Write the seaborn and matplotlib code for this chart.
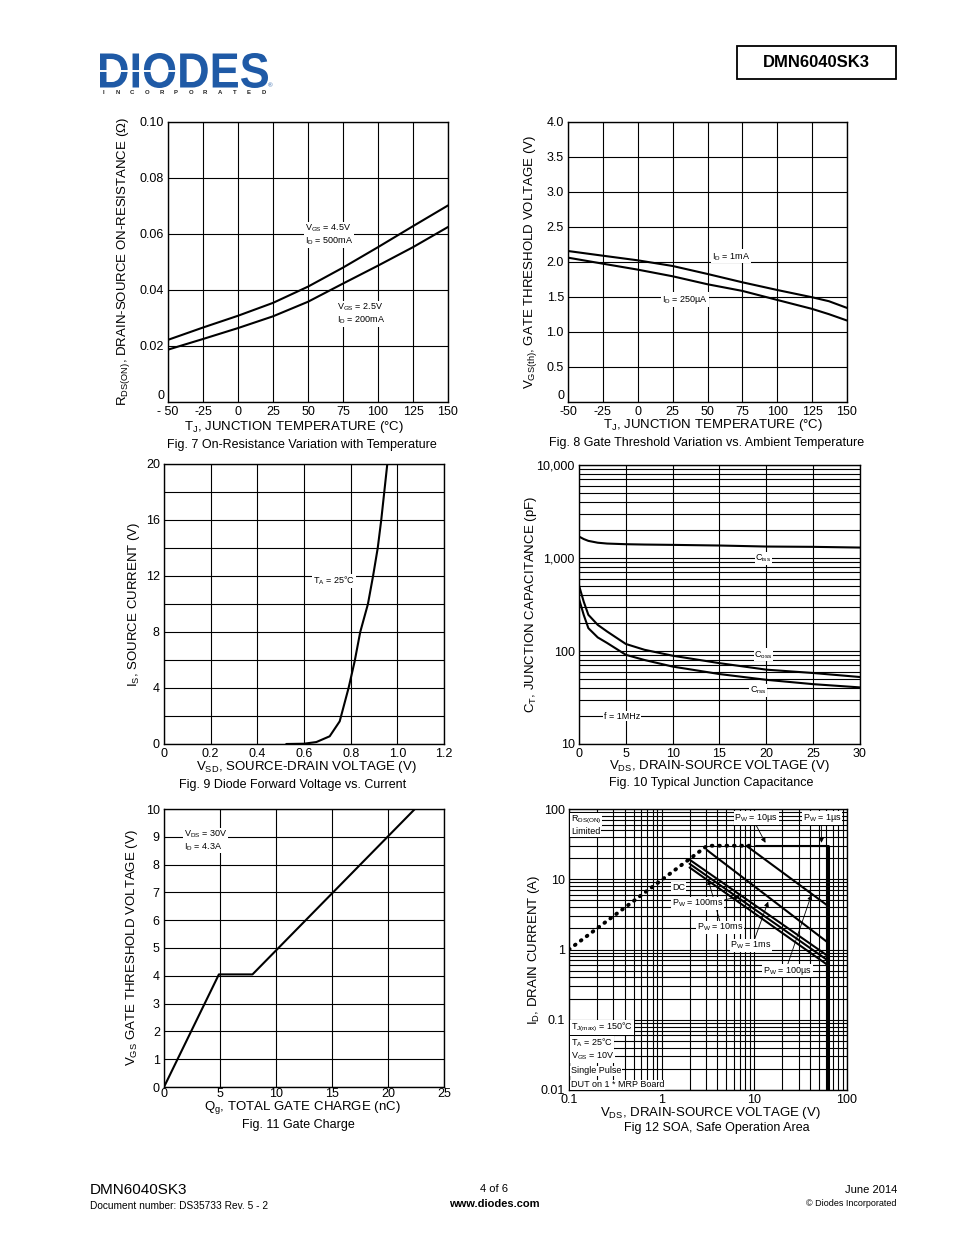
import seaborn as sns
import matplotlib.pyplot as plt
import matplotlib.ticker as mtick
from matplotlib.patches import Rectangle, PathPatch
from matplotlib.textpath import TextPath
from matplotlib.font_manager import FontProperties
from matplotlib.transforms import Affine2D

# Fig. 7 - on-resistance vs temperature
temp7 = [-50, -25, 0, 25, 50, 75, 100, 125, 150]
rds_45v = [0.0222, 0.0266, 0.0308, 0.0354, 0.0412, 0.0480, 0.0553, 0.0628, 0.0702]
rds_25v = [0.0187, 0.0225, 0.0264, 0.0306, 0.0358, 0.0423, 0.0487, 0.0553, 0.0625]

# Fig. 8 - gate threshold vs temperature
temp8 = [-50, -25, 0, 25, 50, 75, 100, 125, 137, 150]
vth_1ma = [2.157, 2.09, 2.024, 1.943, 1.829, 1.71, 1.60, 1.496, 1.44, 1.344]
vth_250ua = [2.062, 1.976, 1.891, 1.796, 1.682, 1.587, 1.458, 1.33, 1.255, 1.164]

# Fig. 9 - diode forward voltage
vsd = [0.524, 0.60, 0.653, 0.71, 0.753, 0.791, 0.817, 0.841, 0.874, 0.896, 0.916, 0.931, 0.944, 0.957]
i_s = [0, 0.02, 0.14, 0.55, 1.62, 4.0, 5.9, 8.0, 10.0, 12.0, 14.0, 16.0, 18.0, 20.0]

# Fig. 10 - junction capacitance
vds10 = [0, 0.5, 1, 2, 3, 5, 7, 10, 15, 20, 25, 30]
ciss = [1700, 1600, 1528, 1460, 1430, 1407, 1395, 1384, 1362, 1328, 1318, 1295]
coss = [506, 340, 245, 191, 162, 119, 103, 89, 74, 63, 58, 52.5]
crss = [364, 245, 176, 140, 122, 91, 80, 68, 56.5, 49, 44, 40.6]

# Fig. 11 - gate charge
qg = [0, 4.9, 7.9, 22.4]
vgs = [0, 4.05, 4.05, 10]

# Fig. 12 - SOA
rds_lim_v = [0.1, 3.1, 10.3]
rds_lim_i = [1, 30, 30]
flat_v = [10.3, 62]
flat_i = [30, 30]
bv_v = [62, 62]
bv_i = [30, 0.01]
pw100us_v, pw100us_i = [8.2, 62], [30, 4.2]
pw1ms_v, pw1ms_i = [3.05, 62], [26.3, 1.26]
pw10ms_v, pw10ms_i = [2.0, 62], [19.0, 0.81]
pw100ms_v, pw100ms_i = [2.0, 62], [16.6, 0.70]
dc_v, dc_i = [2.0, 62], [14.7, 0.60]

sns.set_theme(style="white")
plt.rcParams['font.family'] = ['Liberation Sans', 'DejaVu Sans']
plt.rcParams['mathtext.fontset'] = 'custom'
plt.rcParams['mathtext.rm'] = 'Liberation Sans'
plt.rcParams['mathtext.it'] = 'Liberation Sans:italic'
plt.rcParams['mathtext.bf'] = 'Liberation Sans:bold'
plt.rcParams['mathtext.default'] = 'regular'
plt.rcParams['text.color'] = 'black'
plt.rcParams['xtick.color'] = 'black'
plt.rcParams['ytick.color'] = 'black'

W, H = 954, 1235
fig = plt.figure(figsize=(9.54, 12.35), dpi=100)
fig.patch.set_facecolor('white')


def add_panel(x0, y0, x1, y1):
    return fig.add_axes([x0 / W, 1 - y1 / H, (x1 - x0) / W, (y1 - y0) / H])


def dress(ax, xlabel, ylabel, caption, xl, yl_x, cap, xpad=3):
    ax.grid(True, which='both', color='black', linewidth=0.8)
    ax.set_axisbelow(True)
    ax.tick_params(which='both', length=0, labelsize=9, pad=3)
    ax.tick_params(axis='x', pad=xpad)
    for s in ax.spines.values():
        s.set_color('black')
        s.set_linewidth(1.0)
        s.set_visible(True)
    ax.set_xlabel('')
    ax.set_ylabel('')
    ax.text(xl[0], xl[1], xlabel, transform=ax.transAxes, ha='center', va='center', fontsize=9.5)
    ax.text(yl_x, 0.5, ylabel, transform=ax.transAxes, ha='center', va='center',
            rotation=90, fontsize=9.5)
    ax.text(cap[0], cap[1], caption, transform=ax.transAxes, ha='center', va='center', fontsize=9)


def note(ax, x, y, s, ha='left', size=6.5):
    ax.text(x, y, s, ha=ha, va='center', fontsize=size, zorder=5,
            bbox=dict(fc='white', ec='none', pad=0.6))


def zero_label(ax):
    # the "0" of the y axis sits a little above the corner on the datasheet
    ax.text(-0.011, 0.0, '0', transform=ax.transAxes, ha='right', va='bottom', fontsize=9)


line_kw = dict(color='black', linewidth=1.5, estimator=None, sort=False)

# ---- Fig. 7
ax7 = add_panel(168, 122, 448, 402)
sns.lineplot(x=temp7, y=rds_45v, ax=ax7, **line_kw)
sns.lineplot(x=temp7, y=rds_25v, ax=ax7, **line_kw)
ax7.set(xlim=(-50, 150), ylim=(0, 0.10))
ax7.xaxis.set_major_locator(mtick.MultipleLocator(25))
ax7.yaxis.set_major_locator(mtick.MultipleLocator(0.02))
ax7.xaxis.set_major_formatter(mtick.FuncFormatter(lambda v, _: '- 50' if v == -50 else f'{v:g}'))
ax7.yaxis.set_major_formatter(mtick.FuncFormatter(lambda v, _: '' if abs(v) < 1e-9 else f'{v:.2f}'))
zero_label(ax7)
note(ax7, 47.6, 0.0619, r'V$_{GS}$ = 4.5V')
note(ax7, 47.6, 0.0577, r'I$_D$ = 500mA')
note(ax7, 71, 0.0339, r'V$_{GS}$ = 2.5V')
note(ax7, 71, 0.0292, r'I$_D$ = 200mA')
dress(ax7, r'T$_J$, JUNCTION TEMPERATURE (°C)',
      r'R$_{DS(ON)}$, DRAIN-SOURCE ON-RESISTANCE (Ω)',
      'Fig. 7 On-Resistance Variation with Temperature',
      (0.45, -0.088), -0.158, (0.478, -0.154))

# ---- Fig. 8
ax8 = add_panel(568, 122, 847, 402)
sns.lineplot(x=temp8, y=vth_1ma, ax=ax8, **line_kw)
sns.lineplot(x=temp8, y=vth_250ua, ax=ax8, **line_kw)
ax8.set(xlim=(-50, 150), ylim=(0, 4.0))
ax8.xaxis.set_major_locator(mtick.MultipleLocator(25))
ax8.yaxis.set_major_locator(mtick.MultipleLocator(0.5))
ax8.xaxis.set_major_formatter(mtick.FuncFormatter(lambda v, _: f'{v:g}'))
ax8.yaxis.set_major_formatter(mtick.FuncFormatter(lambda v, _: '' if v == 0 else f'{v:.1f}'))
zero_label(ax8)
note(ax8, 53.2, 2.08, r'I$_D$ = 1mA')
note(ax8, 17.4, 1.46, r'I$_D$ = 250µA')
dress(ax8, r'T$_J$, JUNCTION TEMPERATURE (°C)',
      r'V$_{GS(th)}$, GATE THRESHOLD VOLTAGE (V)',
      'Fig. 8 Gate Threshold Variation vs. Ambient Temperature',
      (0.52, -0.082), -0.133, (0.497, -0.148))

# ---- Fig. 9
ax9 = add_panel(164, 464, 444, 744)
sns.lineplot(x=vsd, y=i_s, ax=ax9, **line_kw)
ax9.set(xlim=(0, 1.2), ylim=(0, 20))
ax9.xaxis.set_major_locator(mtick.MultipleLocator(0.2))
ax9.yaxis.set_major_locator(mtick.MultipleLocator(4))
ax9.yaxis.set_minor_locator(mtick.MultipleLocator(2))
ax9.xaxis.set_major_formatter(mtick.FuncFormatter(lambda v, _: '0' if abs(v) < 1e-9 else f'{v:.1f}'))
ax9.yaxis.set_major_formatter(mtick.FuncFormatter(lambda v, _: f'{v:g}'))
note(ax9, 0.639, 11.67, r'T$_A$ = 25°C')
dress(ax9, r'V$_{SD}$, SOURCE-DRAIN VOLTAGE (V)', r'I$_S$, SOURCE CURRENT (V)',
      'Fig. 9 Diode Forward Voltage vs. Current',
      (0.51, -0.081), -0.107, (0.46, -0.146))

# ---- Fig. 10
ax10 = add_panel(579, 465, 860, 744)
sns.lineplot(x=vds10, y=ciss, ax=ax10, **line_kw)
sns.lineplot(x=vds10, y=coss, ax=ax10, **line_kw)
sns.lineplot(x=vds10, y=crss, ax=ax10, **line_kw)
ax10.set_yscale('log')
ax10.set(xlim=(0, 30), ylim=(10, 10000))
ax10.xaxis.set_major_locator(mtick.MultipleLocator(5))
ax10.yaxis.set_major_locator(mtick.LogLocator(base=10, numticks=10))
ax10.yaxis.set_minor_locator(mtick.LogLocator(base=10, subs=range(2, 10), numticks=20))
ax10.yaxis.set_minor_formatter(mtick.NullFormatter())
ax10.yaxis.set_major_formatter(mtick.FuncFormatter(lambda v, _: f'{v:,.0f}'))
note(ax10, 19.7, 995, r'C$_{iss}$', ha='center')
note(ax10, 19.7, 91, r'C$_{oss}$', ha='center')
note(ax10, 19.1, 37.4, r'C$_{rss}$', ha='center')
note(ax10, 4.6, 20, 'f = 1MHz', ha='center')
dress(ax10, r'V$_{DS}$, DRAIN-SOURCE VOLTAGE (V)', r'C$_T$, JUNCTION CAPACITANCE (pF)',
      'Fig. 10 Typical Junction Capacitance',
      (0.5, -0.08), -0.171, (0.47, -0.14))

# ---- Fig. 11
ax11 = add_panel(164, 809, 444, 1087)
sns.lineplot(x=qg, y=vgs, ax=ax11, **line_kw)
ax11.set(xlim=(0, 25), ylim=(0, 10))
ax11.xaxis.set_major_locator(mtick.MultipleLocator(5))
ax11.yaxis.set_major_locator(mtick.MultipleLocator(1))
note(ax11, 1.76, 9.08, r'V$_{DS}$ = 30V')
note(ax11, 1.76, 8.66, r'I$_D$ = 4.3A')
dress(ax11, r'Q$_g$, TOTAL GATE CHARGE (nC)', r'V$_{GS}$ GATE THRESHOLD VOLTAGE (V)',
      'Fig. 11 Gate Charge',
      (0.495, -0.075), -0.1125, (0.48, -0.136), xpad=0.5)

# ---- Fig. 12
ax12 = add_panel(569, 809, 847, 1090)
sns.lineplot(x=rds_lim_v, y=rds_lim_i, ax=ax12, color='black', linewidth=2.8,
             linestyle=(0, (0.2, 1.7)), dash_capstyle='round', estimator=None, sort=False)
sns.lineplot(x=flat_v, y=flat_i, ax=ax12, **line_kw)
sns.lineplot(x=bv_v, y=bv_i, ax=ax12, color='black', linewidth=2.2, estimator=None, sort=False)
for xs, ys in [(pw100us_v, pw100us_i), (pw1ms_v, pw1ms_i), (pw10ms_v, pw10ms_i),
               (pw100ms_v, pw100ms_i), (dc_v, dc_i)]:
    sns.lineplot(x=xs, y=ys, ax=ax12, **line_kw)
ax12.set_xscale('log')
ax12.set_yscale('log')
ax12.set(xlim=(0.1, 100), ylim=(0.01, 100))
for axis in (ax12.xaxis, ax12.yaxis):
    axis.set_major_locator(mtick.LogLocator(base=10, numticks=10))
    axis.set_minor_locator(mtick.LogLocator(base=10, subs=range(2, 10), numticks=20))
    axis.set_minor_formatter(mtick.NullFormatter())
    axis.set_major_formatter(mtick.FuncFormatter(lambda v, _: f'{v:g}'))

arrow_kw = dict(arrowstyle='-|>', color='black', lw=0.6, mutation_scale=7, shrinkA=0, shrinkB=0)
note(ax12, 10.5, 74.5, r'P$_W$ = 10µs', ha='center')
note(ax12, 53.8, 74.5, r'P$_W$ = 1µs', ha='center')
note(ax12, 1.53, 7.7, 'DC', ha='center')
note(ax12, 2.42, 4.5, r'P$_W$ = 100ms', ha='center')
note(ax12, 4.25, 2.08, r'P$_W$ = 10ms', ha='center')
note(ax12, 9.2, 1.14, r'P$_W$ = 1ms', ha='center')
note(ax12, 22.8, 0.50, r'P$_W$ = 100µs', ha='center')
ax12.annotate('', xy=(13.2, 33), xytext=(10.5, 58), arrowprops=arrow_kw)
ax12.annotate('', xy=(53, 33), xytext=(53, 58), arrowprops=arrow_kw)
ax12.annotate('', xy=(3.18, 9.9), xytext=(4.25, 2.5), arrowprops=arrow_kw)
ax12.annotate('', xy=(6.97, 5.7), xytext=(4.8, 5.1), arrowprops=arrow_kw)
ax12.annotate('', xy=(14.1, 4.8), xytext=(9.7, 1.23), arrowprops=arrow_kw)
ax12.annotate('', xy=(41.3, 6.0), xytext=(22.2, 0.543), arrowprops=arrow_kw)
note(ax12, 0.105, 70.8, r'R$_{DS(ON)}$')
note(ax12, 0.105, 47.5, 'Limited')
for yy, s in zip([0.0774, 0.0473, 0.0299, 0.0187, 0.0118],
                 [r'T$_{J(max)}$ = 150°C', r'T$_A$ = 25°C', r'V$_{GS}$ = 10V',
                  'Single Pulse', 'DUT on 1 * MRP Board']):
    note(ax12, 0.105, yy, s)
dress(ax12, r'V$_{DS}$, DRAIN-SOURCE VOLTAGE (V)', r'I$_D$, DRAIN CURRENT (A)',
      'Fig 12 SOA, Safe Operation Area',
      (0.507, -0.083), -0.126, (0.53, -0.136))

# ---- page header / footer
page = fig.add_axes([0, 0, 1, 1], zorder=-1)
page.set_xlim(0, W)
page.set_ylim(H, 0)
page.set_axis_off()

logo_path = TextPath((0, 0), 'DIODES', size=40, prop=FontProperties(family='Liberation Sans', weight='bold'))
ext = logo_path.get_extents()
sx = 168 / ext.width
sy = 35 / ext.height
tr = Affine2D().translate(-ext.x0, -ext.y0).scale(sx, -sy).translate(100, 88)
page.add_patch(PathPatch(tr.transform_path(logo_path), fc='#1f5aa6', ec='none'))
page.plot([100, 178], [71, 71], color='white', lw=1.4)
for i, ch in enumerate('INCORPORATED'):
    page.text(103 + i * 14.6, 93, ch, fontsize=4.3, fontweight='bold', ha='center', va='center', color='#222222')
page.text(270, 86, '®', fontsize=4.5, ha='center', va='center', color='#1f5aa6')

page.add_patch(Rectangle((737, 46), 159, 33, fill=False, ec='black', lw=1.3))
page.text(816.5, 62.5, 'DMN6040SK3', fontsize=12, fontweight='bold', ha='center', va='center')

page.text(90, 1190, 'DMN6040SK3', fontsize=11, ha='left', va='center')
page.text(90, 1206, 'Document number: DS35733 Rev. 5 - 2', fontsize=7.3, ha='left', va='center')
page.text(494, 1189, '4 of 6', fontsize=8, ha='center', va='center')
page.text(494, 1204, 'www.diodes.com', fontsize=8, fontweight='bold', ha='center', va='center')
page.text(897, 1190, 'June 2014', fontsize=8, ha='right', va='center')
page.text(897, 1204, '© Diodes Incorporated', fontsize=6.5, ha='right', va='center')

fig.savefig('out.png', dpi=100, facecolor='white')
